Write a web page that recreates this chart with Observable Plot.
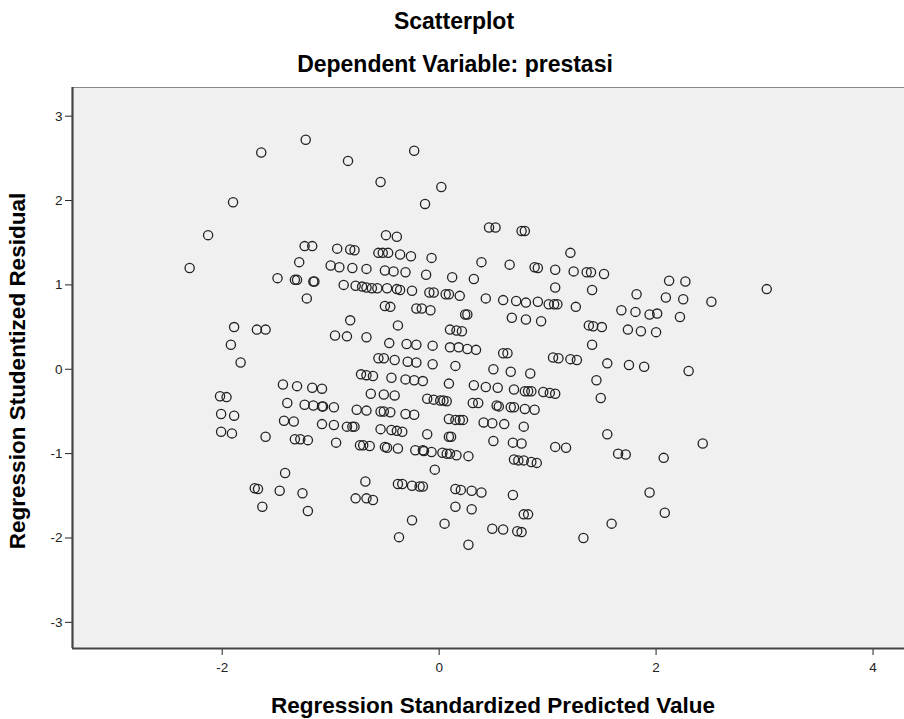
<!DOCTYPE html>
<html><head><meta charset="utf-8">
<script src="https://cdn.jsdelivr.net/npm/d3@7"></script>
<script src="https://cdn.jsdelivr.net/npm/@observablehq/plot@0.6"></script>
<style>
body{margin:0;background:#fff;font-family:"Liberation Sans",Arial,sans-serif;}
#wrap{position:relative;width:904px;height:719px;overflow:hidden;background:#fff;}
.lbl{position:absolute;font-weight:bold;color:#000;white-space:nowrap;text-align:center;}
#title{left:0;width:908px;top:8px;font-size:23px;line-height:27px;}
#subtitle{left:0;width:910px;top:51px;font-size:23px;line-height:27px;}
#xlabel{left:0;width:986px;top:693px;font-size:22.5px;line-height:26px;}
#ylabel{left:18px;top:371px;font-size:22.5px;line-height:26px;transform:translate(-50%,-50%) rotate(-90deg);}
#chart{position:absolute;left:0;top:85px;}
</style></head>
<body>
<div id="wrap">
  <div id="title" class="lbl">Scatterplot</div>
  <div id="subtitle" class="lbl">Dependent Variable: prestasi</div>
  <div id="chart"></div>
  <div id="xlabel" class="lbl">Regression Standardized Predicted Value</div>
  <div id="ylabel" class="lbl">Regression Studentized Residual</div>
</div>
<script>
// Regression standardized predicted value (x) and studentized residual (y)
const predicted = [
  -2.30,-2.13,-1.90,-1.64,-1.23,-0.84,-0.54,-0.23,0.02,-0.13,3.02,
  -1.24,-1.17,-0.94,-0.82,-0.78,-1.29,-1.00,-0.92,-0.80,-0.67,-1.49,-1.33,-1.31,-1.16,
  -1.15,-0.88,-0.77,-0.71,-0.67,-0.62,-1.22,-0.82,-1.89,-1.68,-1.60,-0.96,-0.85,-0.67,
  0.46,0.52,0.76,0.79,-0.49,-0.39,1.21,-0.56,-0.52,-0.47,-0.36,-0.26,-0.07,0.39,
  0.65,0.88,0.91,1.07,1.24,-0.50,-0.42,-0.31,-0.12,0.12,0.32,1.07,-0.57,-0.48,
  -0.39,-0.36,-0.25,-0.09,-0.05,0.06,0.09,0.19,0.43,0.59,0.71,0.80,0.91,1.01,
  1.06,1.09,1.26,-0.50,-0.45,-0.21,-0.16,-0.08,0.24,0.26,0.67,0.80,0.94,-0.38,0.10,0.16,0.21,
  1.36,1.40,1.52,2.12,2.27,1.41,1.82,2.09,2.25,2.51,1.68,1.81,1.94,2.01,2.22,1.38,1.42,1.50,1.74,1.86,2.00,
  1.41,1.55,1.75,1.89,2.30,1.45,1.49,1.55,1.65,1.72,2.07,2.43,1.94,2.08,1.59,1.33,
  -1.92,-1.83,-1.44,-1.31,-1.17,-1.08,-2.02,-1.96,-1.40,-1.24,-1.16,-1.08,-1.07,-0.97,-0.76,
  -0.67,-0.72,-0.67,-0.61,-0.63,-2.01,-1.89,-1.43,-1.34,-1.08,-0.97,-0.85,-0.80,-0.78,-2.01,-1.91,-1.60,-1.33,
  -1.28,-1.21,-0.95,-0.73,-0.70,-0.64,-1.42,-1.70,-1.67,-1.47,-1.26,-0.68,-0.77,-0.67,-0.61,-1.63,-1.21,
  -0.46,-0.30,-0.21,-0.06,0.10,0.18,0.26,0.34,0.59,0.63,1.05,1.10,1.21,1.27,
  -0.56,-0.51,-0.41,-0.29,-0.21,-0.06,0.15,0.50,0.66,0.84,-0.44,-0.31,-0.23,-0.15,
  0.09,0.32,0.43,0.54,0.69,0.79,0.82,0.85,0.96,1.02,1.07,-0.51,-0.41,-0.11,-0.05,
  0.01,0.04,0.07,0.31,0.36,0.53,0.55,0.66,0.69,0.79,0.88,-0.54,-0.51,-0.45,-0.31,-0.23,
  0.09,0.15,0.19,0.22,0.41,0.49,0.60,0.78,-0.54,-0.44,-0.39,-0.34,-0.11,0.09,0.11,
  0.50,0.68,0.76,1.07,1.17,-0.50,-0.48,-0.38,-0.22,-0.15,-0.14,-0.07,0.03,0.07,0.10,0.16,0.27,
  0.69,0.73,0.78,0.85,0.90,-0.04,-0.38,-0.34,-0.25,-0.18,-0.15,0.15,0.20,0.30,0.39,0.68,
  0.15,0.30,0.78,0.82,-0.25,0.05,0.49,0.59,0.72,0.76,-0.37,0.27
];
const residual = [
  1.20,1.59,1.98,2.57,2.72,2.47,2.22,2.59,2.16,1.96,0.95,
  1.46,1.46,1.43,1.42,1.41,1.27,1.23,1.21,1.20,1.19,1.08,1.06,1.06,1.04,
  1.04,1.00,0.99,0.98,0.97,0.96,0.84,0.58,0.50,0.47,0.47,0.40,0.39,0.38,
  1.68,1.68,1.64,1.64,1.59,1.57,1.38,1.38,1.38,1.38,1.36,1.34,1.32,1.27,
  1.24,1.21,1.20,1.18,1.16,1.17,1.16,1.15,1.12,1.09,1.07,0.97,0.96,0.96,
  0.95,0.94,0.93,0.91,0.91,0.89,0.89,0.87,0.84,0.82,0.81,0.79,0.80,0.77,
  0.77,0.77,0.74,0.75,0.74,0.72,0.72,0.70,0.65,0.65,0.61,0.59,0.57,0.52,0.47,0.46,0.45,
  1.15,1.15,1.13,1.05,1.04,0.94,0.89,0.85,0.83,0.80,0.70,0.68,0.65,0.66,0.62,0.52,0.51,0.50,0.47,0.45,0.44,
  0.29,0.07,0.05,0.03,-0.02,-0.13,-0.34,-0.77,-1.00,-1.01,-1.05,-0.88,-1.46,-1.70,-1.83,-2.00,
  0.29,0.08,-0.18,-0.20,-0.22,-0.23,-0.32,-0.33,-0.40,-0.42,-0.43,-0.44,-0.44,-0.45,-0.48,
  -0.49,-0.06,-0.07,-0.08,-0.29,-0.53,-0.55,-0.61,-0.62,-0.65,-0.66,-0.68,-0.68,-0.68,-0.74,-0.76,-0.80,-0.83,
  -0.83,-0.84,-0.87,-0.90,-0.90,-0.91,-1.23,-1.41,-1.42,-1.44,-1.47,-1.33,-1.53,-1.53,-1.55,-1.63,-1.68,
  0.31,0.30,0.29,0.28,0.26,0.26,0.24,0.23,0.19,0.19,0.14,0.13,0.12,0.11,
  0.13,0.13,0.11,0.09,0.08,0.06,0.04,0.00,-0.03,-0.05,-0.10,-0.12,-0.13,-0.14,
  -0.17,-0.19,-0.21,-0.22,-0.24,-0.26,-0.26,-0.26,-0.27,-0.28,-0.29,-0.30,-0.31,-0.35,-0.36,
  -0.37,-0.37,-0.38,-0.40,-0.40,-0.43,-0.44,-0.45,-0.45,-0.47,-0.48,-0.50,-0.50,-0.51,-0.53,-0.54,
  -0.59,-0.60,-0.60,-0.60,-0.63,-0.64,-0.65,-0.68,-0.71,-0.72,-0.73,-0.74,-0.77,-0.80,-0.80,
  -0.85,-0.87,-0.88,-0.92,-0.93,-0.92,-0.93,-0.94,-0.96,-0.96,-0.97,-0.98,-0.99,-1.00,-1.00,-1.02,-1.03,
  -1.07,-1.08,-1.08,-1.10,-1.11,-1.19,-1.36,-1.36,-1.38,-1.39,-1.39,-1.42,-1.43,-1.44,-1.46,-1.49,
  -1.63,-1.66,-1.72,-1.72,-1.79,-1.83,-1.89,-1.90,-1.92,-1.93,-1.99,-2.08
];
const xTicks = [-2, 0, 2, 4];
const yTicks = [-3, -2, -1, 0, 1, 2, 3];
const xDomain = [-3.38, 4.29];
const yDomain = [-3.31, 3.34];

if (predicted.length !== residual.length) console.error("length mismatch", predicted.length, residual.length);
const points = predicted.map((x, i) => ({x, y: residual[i]}));

const chart = Plot.plot({
  width: 904,
  height: 634,
  marginTop: 2,
  marginRight: 0,
  marginBottom: 71,
  marginLeft: 72,
  style: {fontFamily: '"Liberation Sans", Arial, sans-serif', fontSize: "13.5px", color: "#222", background: "transparent", overflow: "visible"},
  x: {domain: xDomain, ticks: xTicks, tickFormat: d => String(d), tickSize: 7, tickPadding: 7, label: null},
  y: {domain: yDomain, ticks: yTicks, tickFormat: d => String(d), tickSize: 7, tickPadding: 3, label: null},
  marks: [
    Plot.frame({fill: "#f0f0f0", stroke: null}),
    Plot.ruleY([yDomain[1]], {stroke: "#888", strokeWidth: 1}),
    Plot.ruleX([xDomain[0]], {stroke: "#444", strokeWidth: 2.2}),
    Plot.ruleY([yDomain[0]], {stroke: "#444", strokeWidth: 2.2}),
    Plot.dot(points, {x: "x", y: "y", r: 4.6, stroke: "#222", strokeWidth: 1.3, fill: "none"})
  ]
});
document.getElementById("chart").appendChild(chart);
</script>
</body></html>
